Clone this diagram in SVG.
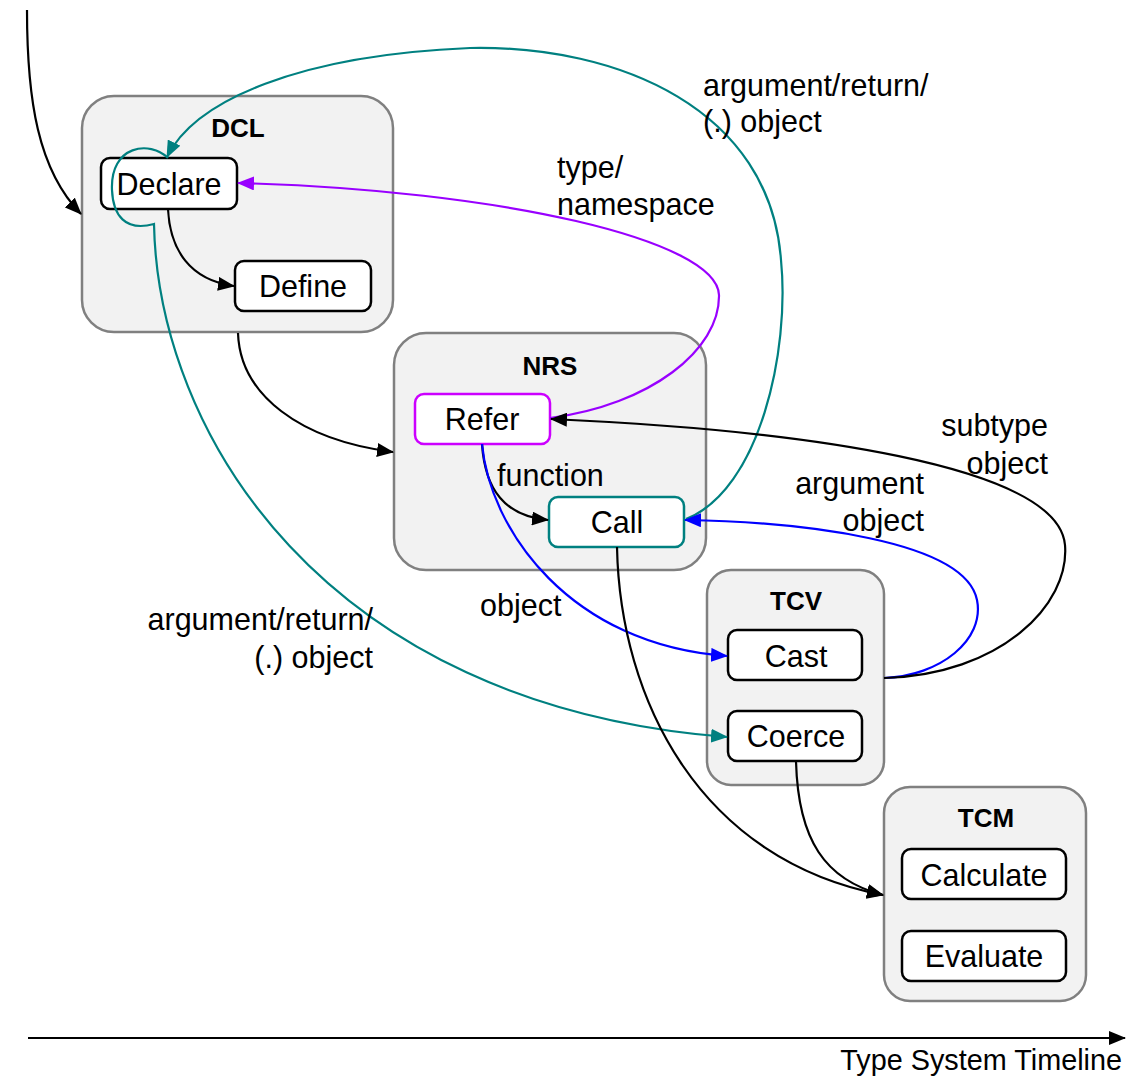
<svg xmlns="http://www.w3.org/2000/svg" width="1139" height="1079" viewBox="0 0 1139 1079">
<style>
.grp{fill:#f2f2f2;stroke:#808080;stroke-width:2.5}
.nd{fill:#fff;stroke:#000;stroke-width:2.5}
.t{font-family:"Liberation Sans",Arial,sans-serif;font-size:30.5px;fill:#000}
.ttl{font-family:"Liberation Sans",Arial,sans-serif;font-size:26px;font-weight:bold;fill:#000;text-anchor:middle}
.c{text-anchor:middle}
.e{text-anchor:end}
.ln{fill:none;stroke-width:2.2}
</style>
<defs>
<marker id="ab" markerUnits="userSpaceOnUse" markerWidth="17" markerHeight="14" refX="16" refY="7" orient="auto"><path d="M0,0 L17,7 L0,14 z" fill="#000"/></marker>
<marker id="at" markerUnits="userSpaceOnUse" markerWidth="17" markerHeight="14" refX="16" refY="7" orient="auto"><path d="M0,0 L17,7 L0,14 z" fill="#008080"/></marker>
<marker id="ap" markerUnits="userSpaceOnUse" markerWidth="17" markerHeight="14" refX="16" refY="7" orient="auto"><path d="M0,0 L17,7 L0,14 z" fill="#9900ff"/></marker>
<marker id="abl" markerUnits="userSpaceOnUse" markerWidth="17" markerHeight="14" refX="16" refY="7" orient="auto"><path d="M0,0 L17,7 L0,14 z" fill="#0000ff"/></marker>
</defs>
<rect width="1139" height="1079" fill="#fff"/>

<g id="DCL">
<rect class="grp" x="82" y="96" width="311" height="236" rx="32"/>
<text class="ttl" x="238" y="137">DCL</text>
</g>
<g id="NRS">
<rect class="grp" x="394" y="333" width="312" height="237" rx="32"/>
<text class="ttl" x="550" y="375">NRS</text>
</g>
<g id="TCV">
<rect class="grp" x="707" y="570" width="177" height="215" rx="24"/>
<text class="ttl" x="796" y="610">TCV</text>
</g>
<g id="TCM">
<rect class="grp" x="884" y="787" width="202" height="214" rx="26"/>
<text class="ttl" x="986" y="827">TCM</text>
</g>

<g id="Declare"><rect class="nd" x="101" y="158" width="136" height="51" rx="9"/><text class="t c" x="169" y="195">Declare</text></g>
<g id="Define"><rect class="nd" x="235" y="261" width="136" height="50" rx="9"/><text class="t c" x="303" y="297">Define</text></g>
<g id="Refer"><rect class="nd" style="stroke:#cc00ff" x="415" y="394" width="135" height="50" rx="9"/><text class="t c" x="482" y="430">Refer</text></g>
<g id="Call"><rect class="nd" style="stroke:#008080" x="549" y="497" width="135" height="50" rx="9"/><text class="t c" x="617" y="533">Call</text></g>
<g id="Cast"><rect class="nd" x="728" y="630" width="134" height="50" rx="9"/><text class="t c" x="796" y="667">Cast</text></g>
<g id="Coerce"><rect class="nd" x="728" y="711" width="134" height="50" rx="9"/><text class="t c" x="796" y="747">Coerce</text></g>
<g id="Calculate"><rect class="nd" x="902" y="849" width="164" height="50" rx="9"/><text class="t c" x="984" y="886">Calculate</text></g>
<g id="Evaluate"><rect class="nd" x="902" y="931" width="164" height="50" rx="9"/><text class="t c" x="984" y="967">Evaluate</text></g>

<g id="connectors">
<path class="ln" stroke="#000" d="M27,10 C27,100 38,170 81,214" marker-end="url(#ab)"/>
<path class="ln" stroke="#008080" d="M686,519 C760,490 790,350 781,260 C770,110 620,45 470,48 C300,55 195,100 167,157" marker-end="url(#at)"/>
<path class="ln" stroke="#008080" d="M168,158 C150,140 110,145 112,190 C113,215 125,232 154,224 C158,430 320,705 727,737" marker-end="url(#at)"/>
<path class="ln" stroke="#9900ff" d="M550,418 C650,405 720,350 719,295 C717,240 500,190 238,183" marker-end="url(#ap)"/>
<path class="ln" stroke="#000" d="M168,209 C170,250 190,280 234,286" marker-end="url(#ab)"/>
<path class="ln" stroke="#000" d="M238,333 C240,395 300,440 393,452" marker-end="url(#ab)"/>
<path class="ln" stroke="#000" d="M482,444 C485,490 505,516 548,520" marker-end="url(#ab)"/>
<path class="ln" stroke="#0000ff" d="M482,444 C490,530 570,645 727,656" marker-end="url(#abl)"/>
<path class="ln" stroke="#0000ff" d="M884,678 C940,676 985,640 977,600 C965,540 800,522 685,520" marker-end="url(#abl)"/>
<path class="ln" stroke="#000" d="M884,678 C1000,675 1070,605 1065,545 C1058,465 800,430 551,419" marker-end="url(#ab)"/>
<path class="ln" stroke="#000" d="M617,547 C620,700 700,860 883,895" marker-end="url(#ab)"/>
<path class="ln" stroke="#000" d="M796,761 C798,840 825,880 883,895" marker-end="url(#ab)"/>
<path class="ln" stroke="#000" d="M28,1038 L1125,1038" marker-end="url(#ab)"/>
</g>

<g id="labels">
<text class="t" x="703" y="96">argument/return/</text>
<text class="t" x="703" y="132">(.) object</text>
<text class="t" x="557" y="178">type/</text>
<text class="t" x="557" y="215">namespace</text>
<text class="t" x="497" y="486">function</text>
<text class="t" x="480" y="616">object</text>
<text class="t e" x="373" y="630">argument/return/</text>
<text class="t e" x="373" y="668">(.) object</text>
<text class="t e" x="1048" y="436">subtype</text>
<text class="t e" x="1048" y="474">object</text>
<text class="t e" x="924" y="494">argument</text>
<text class="t e" x="924" y="531">object</text>
<text class="t e" x="1122" y="1070" style="font-size:28.8px">Type System Timeline</text>
</g>
</svg>
